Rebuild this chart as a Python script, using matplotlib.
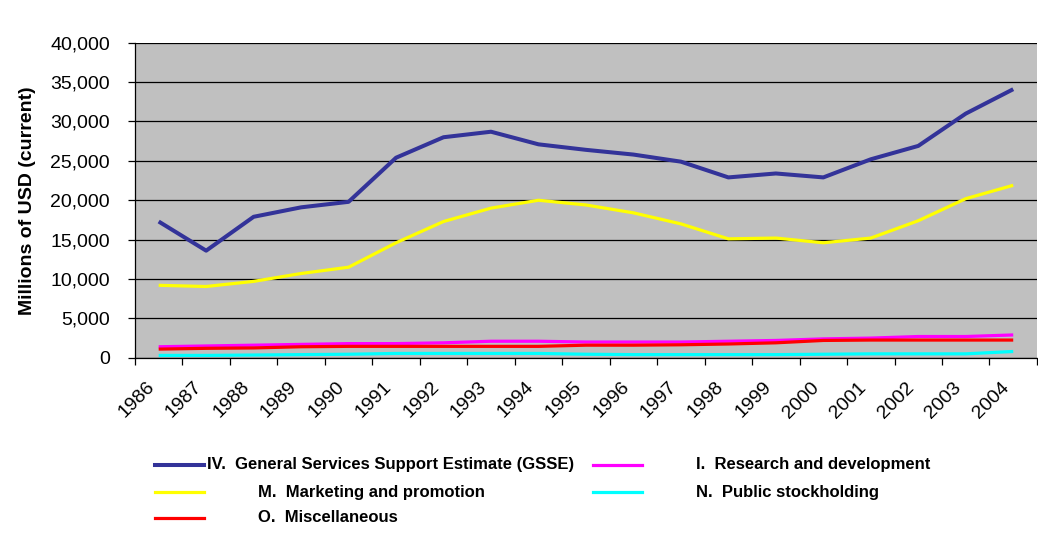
import matplotlib
matplotlib.use("Agg")
import matplotlib.pyplot as plt
import matplotlib.transforms as mtransforms
from matplotlib.lines import Line2D
from matplotlib.ticker import FuncFormatter, FixedLocator
import numpy as np

plt.rcParams['font.family'] = ['Liberation Sans', 'DejaVu Sans']

years = [str(y) for y in range(1986, 2005)]

gsse = [17300, 13600, 17900, 19100, 19800, 25400, 28000, 28700, 27100, 26400,
        25800, 24900, 22900, 23400, 22900, 25200, 26900, 31000, 34100]
research = [1400, 1500, 1600, 1700, 1800, 1800, 1900, 2100, 2100, 2000,
            2000, 2000, 2100, 2200, 2400, 2500, 2700, 2700, 2900]
marketing = [9200, 9050, 9700, 10700, 11500, 14600, 17300, 19000, 20000, 19400,
             18400, 17000, 15100, 15200, 14600, 15200, 17400, 20200, 21900]
stockholding = [300, 300, 350, 400, 450, 550, 550, 550, 550, 450,
                400, 400, 400, 400, 450, 500, 500, 500, 800]
misc = [1100, 1200, 1250, 1400, 1450, 1450, 1450, 1450, 1450, 1600,
        1600, 1650, 1750, 1900, 2200, 2250, 2250, 2250, 2250]

series = [
    ("IV.  General Services Support Estimate (GSSE)", gsse, "#333399", 2.9),
    ("I.  Research and development", research, "#FF00FF", 2.3),
    ("M.  Marketing and promotion", marketing, "#FFFF00", 2.3),
    ("N.  Public stockholding", stockholding, "#00FFFF", 2.3),
    ("O.  Miscellaneous", misc, "#FF0000", 2.3),
]

fig = plt.figure(figsize=(10.38, 5.34), dpi=100)
ax = fig.add_axes([0.130, 0.330, 0.869, 0.590])
ax.set_facecolor("#C0C0C0")

x = np.arange(len(years))
for label, vals, color, lw in series:
    ax.plot(x, vals, color=color, lw=lw, solid_capstyle='butt', zorder=3)

ax.set_xlim(-0.5, len(years) - 0.5)
ax.set_ylim(0, 40000)
ax.set_yticks(range(0, 40001, 5000))
ax.yaxis.set_major_formatter(FuncFormatter(lambda v, p: f"{int(v):,}"))
ax.grid(axis='y', color='black', lw=0.9, zorder=1)
ax.set_axisbelow(True)

ax.set_xticks(x)
ax.set_xticklabels(years, rotation=45, ha='right', va='top', rotation_mode='anchor')
ax.xaxis.set_minor_locator(FixedLocator(np.arange(-0.5, len(years), 1.0)))
ax.tick_params(axis='x', which='major', length=0, pad=15, labelsize=14)
ax.tick_params(axis='x', which='minor', length=5, width=0.9, color='black')
ax.tick_params(axis='y', length=5, width=0.9, labelsize=14, pad=13)
offset = mtransforms.ScaledTranslation(-13 / 100, 0, fig.dpi_scale_trans)
for t in ax.get_xticklabels():
    t.set_transform(t.get_transform() + offset)

for s in ['top', 'right']:
    ax.spines[s].set_visible(False)
for s in ['left', 'bottom']:
    ax.spines[s].set_color('black')
    ax.spines[s].set_linewidth(0.9)

ax.set_ylabel("Millions of USD (current)", fontsize=14, fontweight='bold', labelpad=10)

# legend drawn by hand to keep Excel's spacing
W, H = 1038, 534
entries = [
    (series[0], 155, 465, 207),
    (series[1], 593, 465, 696),
    (series[2], 155, 492, 258),
    (series[3], 593, 492, 696),
    (series[4], 155, 518, 258),
]
for (label, vals, color, lw), hx, hy, tx in entries:
    fig.add_artist(Line2D([hx / W, (hx + 49) / W], [1 - hy / H, 1 - hy / H],
                          color=color, lw=lw, transform=fig.transFigure))
    fig.text(tx / W, 1 - hy / H, label, fontsize=12, fontweight='bold',
             va='center', ha='left')

fig.savefig("out.png", dpi=100)
